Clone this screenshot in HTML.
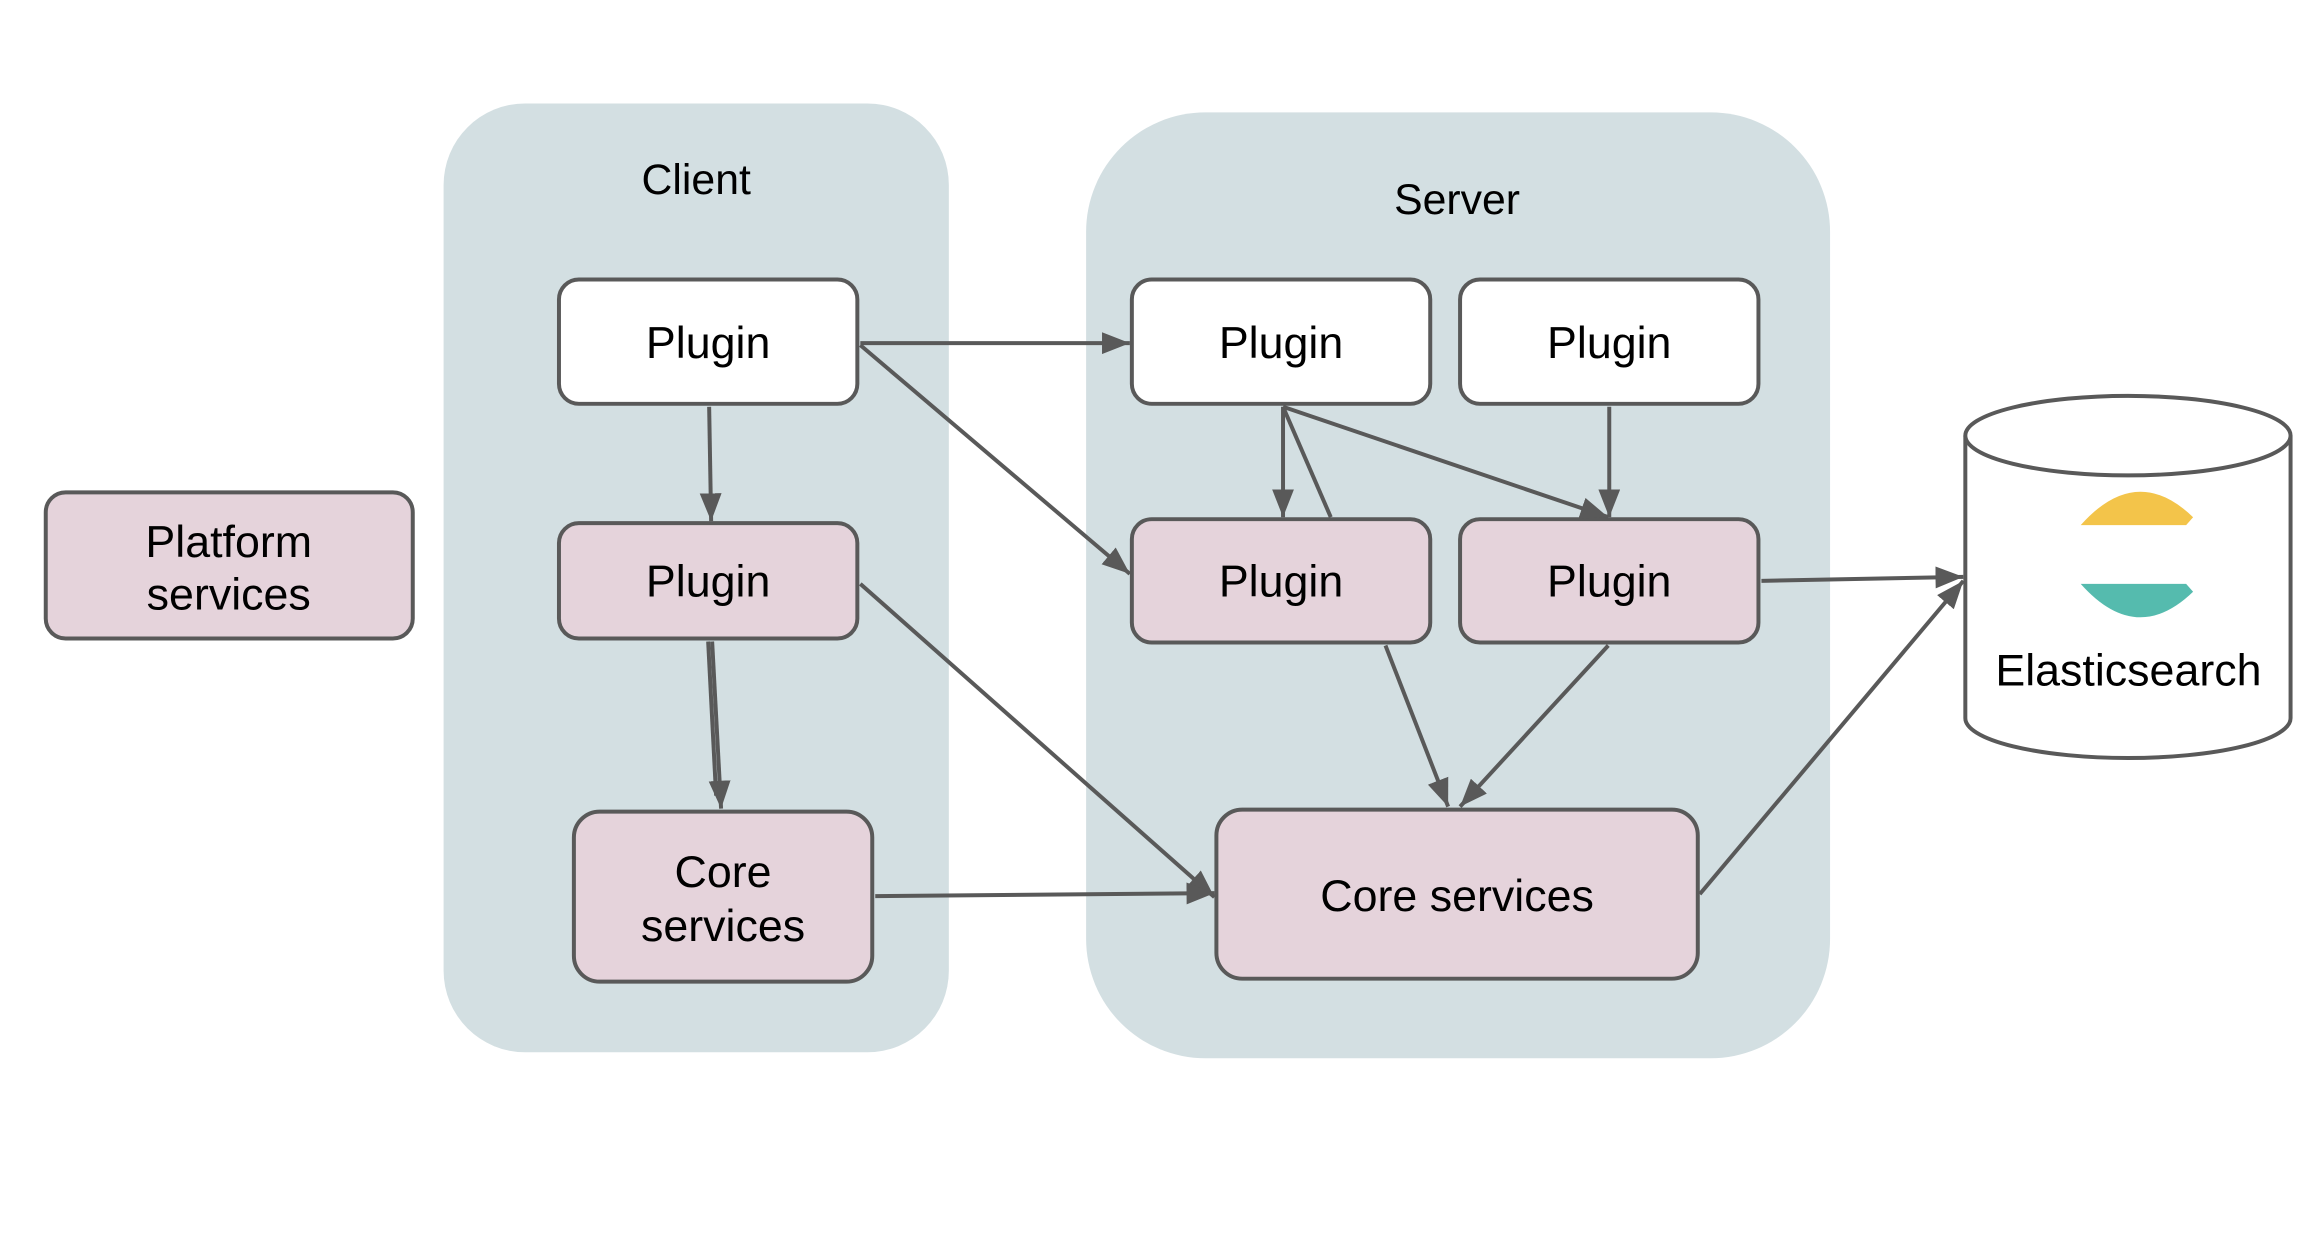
<!DOCTYPE html>
<html><head><meta charset="utf-8"><style>
html,body{margin:0;padding:0;background:#fff}
svg{display:block}
text{font-family:"Liberation Sans",Arial,sans-serif;fill:#000}
</style></head><body>
<svg width="2318" height="1254" viewBox="0 0 2318 1254" xmlns="http://www.w3.org/2000/svg">
<defs>
<marker id="ar" viewBox="0 0 10 10" refX="10" refY="5" markerWidth="28" markerHeight="22" markerUnits="userSpaceOnUse" orient="auto" preserveAspectRatio="none">
<path d="M0,0 L10,5 L0,10 z" fill="#595959"/>
</marker>
</defs>
<g transform="scale(0.9946)">
<rect x="446" y="104" width="508" height="954" rx="82" fill="#d3dfe2"/>
<rect x="1092" y="113" width="748" height="951" rx="120" fill="#d3dfe2"/>
<text x="700" y="195" font-size="43" text-anchor="middle">Client</text>
<text x="1465" y="215" font-size="43" text-anchor="middle">Server</text>

<g stroke="#595959" stroke-width="4">
<rect x="46" y="495" width="369" height="147" rx="20" fill="#e5d3db"/>
<rect x="562" y="281" width="300" height="125" rx="20" fill="#fff"/>
<rect x="562" y="526" width="300" height="116" rx="20" fill="#e5d3db"/>
<rect x="577" y="816" width="300" height="171" rx="26" fill="#e5d3db"/>
<rect x="1138" y="281" width="300" height="125" rx="20" fill="#fff"/>
<rect x="1468" y="281" width="300" height="125" rx="20" fill="#fff"/>
<rect x="1138" y="522" width="300" height="124" rx="20" fill="#e5d3db"/>
<rect x="1468" y="522" width="300" height="124" rx="20" fill="#e5d3db"/>
<rect x="1223" y="814" width="484" height="170" rx="26" fill="#e5d3db"/>
<path d="M1976,438 L1976,722 A163,40 0 0 0 2303,722 L2303,438" fill="#fff"/>
<ellipse cx="2139.5" cy="438" rx="163.5" ry="40" fill="#fff"/>
</g>
<path d="M2092,528 Q2148,465 2205,520 L2198,528 Z" fill="#f3c44a"/>
<path d="M2092,587 L2198,587 L2205,595 Q2148,650 2092,587 Z" fill="#55bbae"/>

<g font-size="45" text-anchor="middle">
<text x="230" y="560">Platform</text>
<text x="230" y="613">services</text>
<text x="712" y="360">Plugin</text>
<text x="712" y="600">Plugin</text>
<text x="727" y="892">Core</text>
<text x="727" y="946">services</text>
<text x="1288" y="360">Plugin</text>
<text x="1618" y="360">Plugin</text>
<text x="1288" y="600">Plugin</text>
<text x="1618" y="600">Plugin</text>
<text x="1465" y="916">Core services</text>
<text x="2140" y="689">Elasticsearch</text>
</g>

<g stroke="#595959" stroke-width="4" fill="none" marker-end="url(#ar)">
<line x1="865" y1="345" x2="1136" y2="345"/>
<line x1="865" y1="347" x2="1136" y2="577"/>
<line x1="713" y1="409" x2="715" y2="524"/>
<line x1="716" y1="645" x2="725" y2="813"/>
<line x1="865" y1="587" x2="1221" y2="902"/>
<line x1="880" y1="901" x2="1221" y2="898"/>
<line x1="1290" y1="409" x2="1290" y2="520"/>
<line x1="1290" y1="409" x2="1617" y2="520"/>
<line x1="1618" y1="409" x2="1618" y2="520"/>
<line x1="1393" y1="649" x2="1456" y2="811"/>
<line x1="1617" y1="649" x2="1468" y2="811"/>
<line x1="1771" y1="584" x2="1974" y2="580"/>
<line x1="1709" y1="899" x2="1974" y2="584"/>
</g>
<g stroke="#595959" stroke-width="4" fill="none">
<line x1="1290" y1="409" x2="1338" y2="520"/>
<line x1="712" y1="645" x2="720" y2="800"/>
</g>
</g>
</svg>
</body></html>
